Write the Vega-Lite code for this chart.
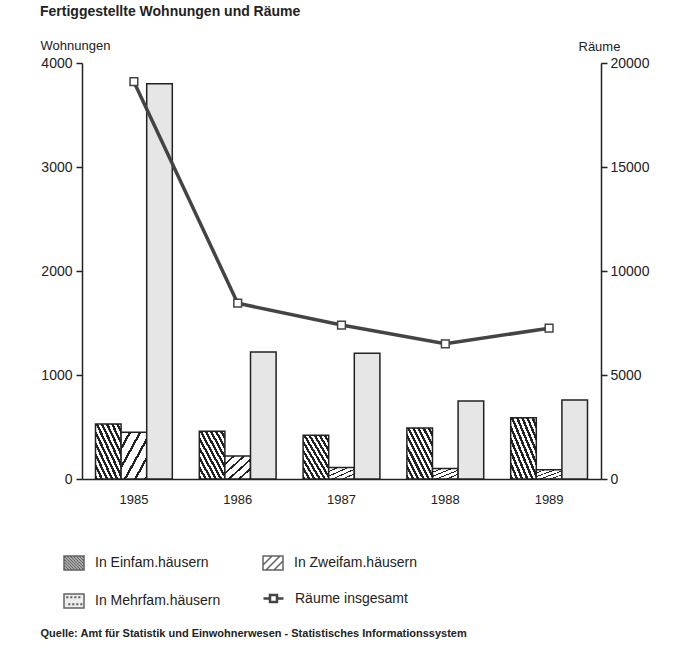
{
  "$schema": "https://vega.github.io/schema/vega-lite/v6.json",
  "width": 519,
  "height": 416,
  "autosize": "none",
  "padding": {"left": 82, "top": 63, "right": 80, "bottom": 185},
  "background": "white",
  "config": {
    "font": "Liberation Sans, Arial, sans-serif",
    "view": {"stroke": null},
    "axis": {"domainColor": "#222", "domainWidth": 1.5, "tickColor": "#222", "tickWidth": 1.5, "labelColor": "#222", "titleColor": "#222", "grid": false}
  },
  "title": {"text": "Fertiggestellte Wohnungen und Räume", "anchor": "start", "orient": "top", "dx": 0, "fontSize": 14, "fontWeight": "bold", "color": "#222", "offset": 20},
  "datasets": {
    "bars": [
      {"jahr": "1985", "typ": "In Einfam.häusern", "wohnungen": 530},
      {"jahr": "1985", "typ": "In Zweifam.häusern", "wohnungen": 450},
      {"jahr": "1985", "typ": "In Mehrfam.häusern", "wohnungen": 3800},
      {"jahr": "1986", "typ": "In Einfam.häusern", "wohnungen": 460},
      {"jahr": "1986", "typ": "In Zweifam.häusern", "wohnungen": 220},
      {"jahr": "1986", "typ": "In Mehrfam.häusern", "wohnungen": 1220},
      {"jahr": "1987", "typ": "In Einfam.häusern", "wohnungen": 420},
      {"jahr": "1987", "typ": "In Zweifam.häusern", "wohnungen": 110},
      {"jahr": "1987", "typ": "In Mehrfam.häusern", "wohnungen": 1210},
      {"jahr": "1988", "typ": "In Einfam.häusern", "wohnungen": 490},
      {"jahr": "1988", "typ": "In Zweifam.häusern", "wohnungen": 100},
      {"jahr": "1988", "typ": "In Mehrfam.häusern", "wohnungen": 750},
      {"jahr": "1989", "typ": "In Einfam.häusern", "wohnungen": 590},
      {"jahr": "1989", "typ": "In Zweifam.häusern", "wohnungen": 90},
      {"jahr": "1989", "typ": "In Mehrfam.häusern", "wohnungen": 760}
    ],
    "raeume": [
      {"jahr": "1985", "raeume": 19100},
      {"jahr": "1986", "raeume": 8450},
      {"jahr": "1987", "raeume": 7400},
      {"jahr": "1988", "raeume": 6500},
      {"jahr": "1989", "raeume": 7250}
    ]
  },
  "layer": [
    {
      "data": {"name": "bars"},
      "mark": {"type": "bar", "stroke": "#222", "strokeWidth": 1.5},
      "encoding": {
        "x": {
          "field": "jahr", "type": "ordinal",
          "scale": {"paddingInner": 0.26, "paddingOuter": 0.13},
          "axis": {
            "labelAngle": 0, "ticks": false, "labelFontSize": 13, "labelPadding": 14,
            "title": "Quelle: Amt für Statistik und Einwohnerwesen - Statistisches Informationssystem",
            "titleX": -42, "titleY": 157, "titleAlign": "left", "titleBaseline": "alphabetic",
            "titleFontSize": 11, "titleFontWeight": "bold"
          }
        },
        "xOffset": {"field": "typ", "sort": ["In Einfam.häusern", "In Zweifam.häusern", "In Mehrfam.häusern"], "scale": {"paddingInner": 0}},
        "y": {
          "field": "wohnungen", "type": "quantitative",
          "scale": {"domain": [0, 4000]},
          "axis": {
            "values": [0, 1000, 2000, 3000, 4000], "format": "d", "labelFontSize": 14, "tickSize": 6, "labelPadding": 4,
            "title": "Wohnungen", "titleAngle": 0, "titleAlign": "left", "titleBaseline": "alphabetic",
            "titleX": -42, "titleY": -14, "titleFontSize": 13, "titleFontWeight": "normal"
          }
        },
        "fill": {
          "condition": [
            {"test": "datum.typ === 'In Einfam.häusern'", "value": {"gradient": "linear", "x1": 0, "y1": 1, "x2": 1, "y2": 0, "stops": [
                {"offset": 0, "color": "#222"}, {"offset": 0.05, "color": "#222"}, {"offset": 0.05, "color": "#fff"}, {"offset": 0.1, "color": "#fff"},
                {"offset": 0.1, "color": "#222"}, {"offset": 0.15, "color": "#222"}, {"offset": 0.15, "color": "#fff"}, {"offset": 0.2, "color": "#fff"},
                {"offset": 0.2, "color": "#222"}, {"offset": 0.25, "color": "#222"}, {"offset": 0.25, "color": "#fff"}, {"offset": 0.3, "color": "#fff"},
                {"offset": 0.3, "color": "#222"}, {"offset": 0.35, "color": "#222"}, {"offset": 0.35, "color": "#fff"}, {"offset": 0.4, "color": "#fff"},
                {"offset": 0.4, "color": "#222"}, {"offset": 0.45, "color": "#222"}, {"offset": 0.45, "color": "#fff"}, {"offset": 0.5, "color": "#fff"},
                {"offset": 0.5, "color": "#222"}, {"offset": 0.55, "color": "#222"}, {"offset": 0.55, "color": "#fff"}, {"offset": 0.6, "color": "#fff"},
                {"offset": 0.6, "color": "#222"}, {"offset": 0.65, "color": "#222"}, {"offset": 0.65, "color": "#fff"}, {"offset": 0.7, "color": "#fff"},
                {"offset": 0.7, "color": "#222"}, {"offset": 0.75, "color": "#222"}, {"offset": 0.75, "color": "#fff"}, {"offset": 0.8, "color": "#fff"},
                {"offset": 0.8, "color": "#222"}, {"offset": 0.85, "color": "#222"}, {"offset": 0.85, "color": "#fff"}, {"offset": 0.9, "color": "#fff"},
                {"offset": 0.9, "color": "#222"}, {"offset": 0.95, "color": "#222"}, {"offset": 0.95, "color": "#fff"}, {"offset": 1, "color": "#fff"}
              ]}},
            {"test": "datum.typ === 'In Zweifam.häusern'", "value": {"gradient": "linear", "x1": 0, "y1": 0, "x2": 1, "y2": 1, "stops": [
                {"offset": 0, "color": "#fff"}, {"offset": 0.15, "color": "#fff"}, {"offset": 0.15, "color": "#222"}, {"offset": 0.2, "color": "#222"},
                {"offset": 0.2, "color": "#fff"}, {"offset": 0.35, "color": "#fff"}, {"offset": 0.35, "color": "#222"}, {"offset": 0.4, "color": "#222"},
                {"offset": 0.4, "color": "#fff"}, {"offset": 0.55, "color": "#fff"}, {"offset": 0.55, "color": "#222"}, {"offset": 0.6, "color": "#222"},
                {"offset": 0.6, "color": "#fff"}, {"offset": 0.75, "color": "#fff"}, {"offset": 0.75, "color": "#222"}, {"offset": 0.8, "color": "#222"},
                {"offset": 0.8, "color": "#fff"}, {"offset": 0.95, "color": "#fff"}, {"offset": 0.95, "color": "#222"}, {"offset": 1, "color": "#222"}
              ]}}
          ],
          "field": "typ", "type": "nominal",
          "scale": {
            "domain": ["In Einfam.häusern", "In Zweifam.häusern", "In Mehrfam.häusern"],
            "range": ["#ffffff", "#ffffff", "#e6e6e6"]
          },
          "legend": {
            "title": null, "orient": "none", "legendX": -19, "legendY": 489, "columns": 2, "direction": "horizontal",
            "symbolSize": 400, "symbolStrokeColor": "#222", "symbolStrokeWidth": 1.5,
            "labelFontSize": 14, "labelOffset": 10, "labelColor": "#222", "columnPadding": 39, "rowPadding": 17, "labelLimit": 200
          }
        }
      }
    },
    {
      "data": {"name": "bars"},
      "transform": [{"filter": "false"}],
      "mark": {"type": "point", "filled": true, "stroke": "#222", "strokeWidth": 1.5},
      "encoding": {
        "fill": {
          "field": "typ", "type": "nominal",
          "legend": {
            "title": null, "orient": "none", "legendX": -19, "legendY": 489, "columns": 2, "direction": "horizontal",
            "symbolSize": 400, "symbolStrokeColor": "#222", "symbolStrokeWidth": 1.5,
            "labelFontSize": 14, "labelOffset": 10, "labelColor": "#222", "columnPadding": 39, "rowPadding": 17, "labelLimit": 200
          }
        },
        "shape": {
          "field": "typ", "type": "nominal",
          "scale": {
            "domain": ["In Einfam.häusern", "In Zweifam.häusern", "In Mehrfam.häusern"],
            "range": [
              "M-1,-0.7H1V0.7H-1Z M0.8,-0.7L1,-0.5 M0.5,-0.7L1,-0.2 M0.2,-0.7L1,0.1 M-0.1,-0.7L1,0.4 M-0.4,-0.7L1,0.7 M-0.7,-0.7L0.7,0.7 M-1,-0.7L0.4,0.7 M-1,-0.4L0.1,0.7 M-1,-0.1L-0.2,0.7 M-1,0.2L-0.5,0.7 M-1,0.5L-0.8,0.7",
              "M-1,-0.7H1V0.7H-1Z M-1,0.2L-0.1,-0.7 M-0.7,0.7L0.7,-0.7 M0.1,0.7L1,-0.2",
              "M-1,-0.7H1V0.7H-1Z M-0.7,-0.4h0.06v0.06h-0.06Z M-0.3,-0.4h0.06v0.06h-0.06Z M0.1,-0.4h0.06v0.06h-0.06Z M0.5,-0.4h0.06v0.06h-0.06Z M-0.5,0.3h0.06v0.06h-0.06Z M-0.1,0.3h0.06v0.06h-0.06Z M0.3,0.3h0.06v0.06h-0.06Z M0.7,0.3h0.06v0.06h-0.06Z"
            ]
          },
          "legend": {
            "title": null, "orient": "none", "legendX": -19, "legendY": 489, "columns": 2, "direction": "horizontal",
            "symbolSize": 400, "symbolStrokeColor": "#222", "symbolStrokeWidth": 1.5,
            "labelFontSize": 14, "labelOffset": 10, "labelColor": "#222", "columnPadding": 39, "rowPadding": 17, "labelLimit": 200
          }
        }
      }
    },
    {
      "data": {"name": "raeume"},
      "mark": {"type": "line", "strokeWidth": 3.5, "point": {"shape": "square", "size": 60, "filled": true, "fill": "white", "stroke": "#333", "strokeWidth": 1.5}},
      "encoding": {
        "x": {"field": "jahr", "type": "ordinal"},
        "y": {
          "field": "raeume", "type": "quantitative",
          "scale": {"domain": [0, 20000]},
          "axis": {
            "orient": "right", "values": [0, 5000, 10000, 15000, 20000], "format": "d", "labelFontSize": 14, "tickSize": 6, "labelPadding": 3,
            "title": "Räume", "titleAngle": 0, "titleAlign": "left", "titleBaseline": "alphabetic",
            "titleX": -23, "titleY": -13, "titleFontSize": 13, "titleFontWeight": "normal"
          }
        },
        "stroke": {
          "datum": "Räume insgesamt",
          "scale": {"range": ["#444"]},
          "legend": {
            "title": null, "orient": "none", "legendX": 180, "legendY": 524,
            "symbolType": "M-1,0H-0.35M0.35,0H1M-0.35,-0.35H0.35V0.35H-0.35Z", "symbolSize": 400, "symbolStrokeWidth": 2.5, "symbolFillColor": "white",
            "labelFontSize": 14, "labelOffset": 10, "labelColor": "#222"
          }
        }
      }
    }
  ],
  "resolve": {"scale": {"y": "independent"}}
}
